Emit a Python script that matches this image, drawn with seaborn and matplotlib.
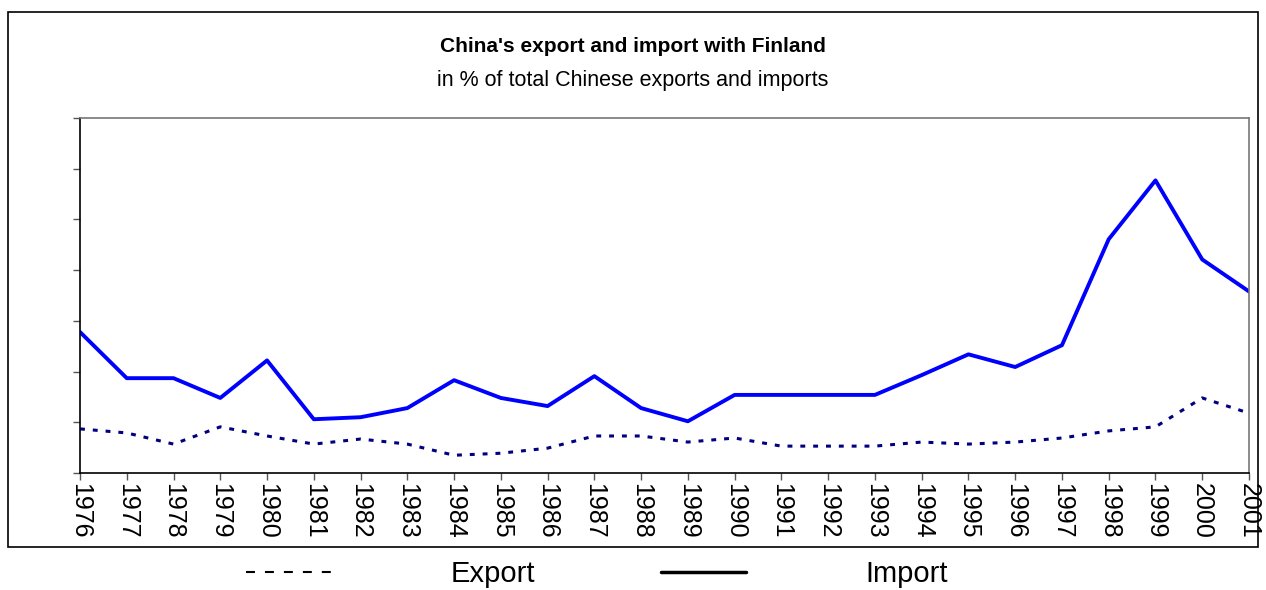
import matplotlib
matplotlib.use("Agg")
import matplotlib.pyplot as plt
from matplotlib.lines import Line2D
from matplotlib.patches import Rectangle
import seaborn as sns
import pandas as pd

years = list(range(1976, 2002))
import_vals = [2.78, 1.87, 1.87, 1.48, 2.22, 1.06, 1.10, 1.28, 1.83, 1.48, 1.32, 1.91, 1.28,
               1.02, 1.54, 1.54, 1.54, 1.54, 1.93, 2.34, 2.09, 2.52, 4.61, 5.77, 4.21, 3.58]
export_vals = [0.87, 0.79, 0.57, 0.91, 0.73, 0.57, 0.67, 0.57, 0.35, 0.39, 0.49, 0.73, 0.73,
               0.61, 0.69, 0.53, 0.53, 0.53, 0.61, 0.57, 0.61, 0.69, 0.83, 0.91, 1.48, 1.18]
y_ticks = [0, 1, 2, 3, 4, 5, 6, 7]

sns.set_style("white")
plt.rcParams['font.family'] = ['Liberation Sans', 'DejaVu Sans']
plt.rcParams['text.color'] = 'black'
plt.rcParams['xtick.color'] = 'black'
plt.rcParams['ytick.color'] = 'black'

df = pd.DataFrame({"Year": years, "Import": import_vals, "Export": export_vals})

fig = plt.figure(figsize=(12.66, 5.9), dpi=100)
ax = fig.add_axes([80/1266, 117/590, 1169/1266, 355/590])

sns.lineplot(data=df, x="Year", y="Import", ax=ax, color="#0000FF", linewidth=2.8)
sns.lineplot(data=df, x="Year", y="Export", ax=ax, color="#000080", linewidth=2.2,
             linestyle=(0, (1.6, 2.6)))

ax.set_xlim(1976, 2001)
ax.set_ylim(0, 7)
ax.set_xticks(years)
ax.set_xticklabels([str(y) for y in years], rotation=270, fontsize=18)
ax.set_yticks(y_ticks)
ax.set_yticklabels([])
ax.set_xlabel("")
ax.set_ylabel("")
ax.tick_params(axis="both", direction="out", length=5, width=1, color="#555555",
               bottom=True, left=True, pad=2)
ax.spines["left"].set_color("black")
ax.spines["bottom"].set_color("black")
ax.spines["top"].set_color("#777777")
ax.spines["right"].set_color("#777777")
for s in ax.spines.values():
    s.set_linewidth(1.2)

fig.text(0.5, 1 - 46/590, "China's export and import with Finland", ha="center", va="center",
         fontsize=15, fontweight="bold")
fig.text(0.5, 1 - 81/590, "in % of total Chinese exports and imports", ha="center", va="center",
         fontsize=15.5)

fig.add_artist(Rectangle((8/1266, 43/590), 1250/1266, 535/590, transform=fig.transFigure,
                         fill=False, edgecolor="black", linewidth=1.2))

handles = [Line2D([], [], color="black", linewidth=1.5, linestyle=(0, (4.3, 4.8))),
           Line2D([], [], color="black", linewidth=2.5)]
fs = 21
px = fs * 100 / 72
fig.legend(handles, ["Export", "Import"], loc="center", bbox_to_anchor=(597/1266, 1 - 574/590),
           ncol=2, frameon=False, fontsize=fs, handlelength=85/px,
           handletextpad=120/px, columnspacing=125/px, borderpad=0)

fig.savefig("out.png", dpi=100)
